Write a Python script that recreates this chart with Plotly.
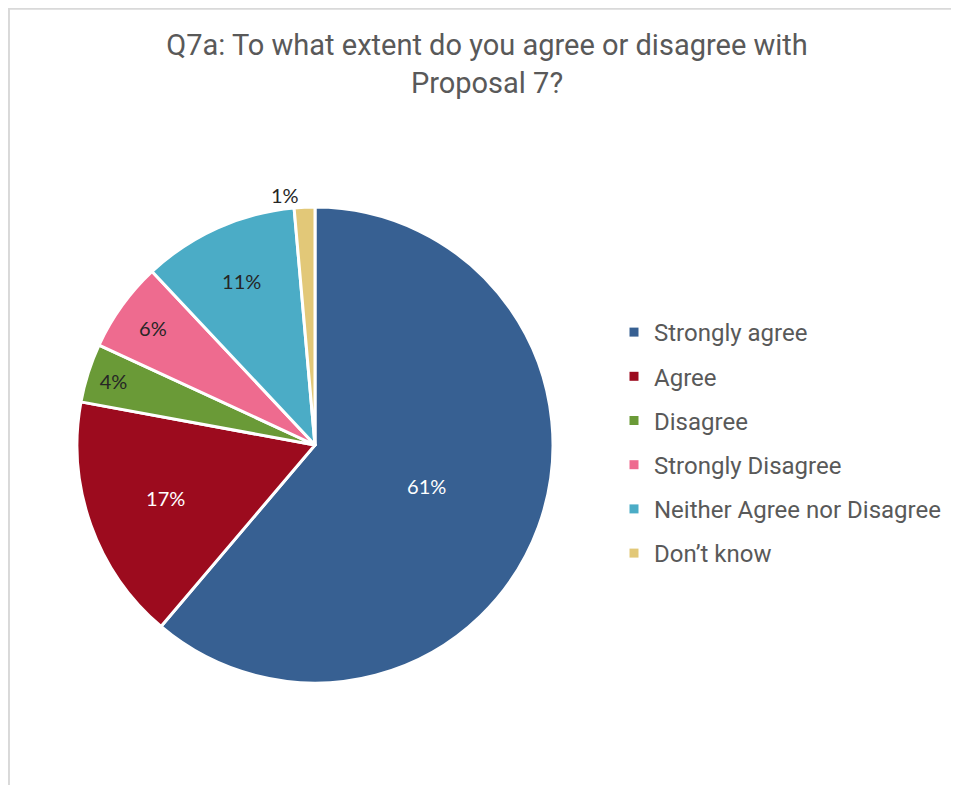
import plotly.graph_objects as go

labels = ["Strongly agree", "Agree", "Disagree", "Strongly Disagree",
          "Neither Agree nor Disagree", "Don\u2019t know"]
values = [61.2, 16.7, 4.0, 6.1, 10.6, 1.4]
colors = ["#376092", "#9C0B1E", "#6A9A37", "#EE6B8F", "#4BACC6", "#E2C878"]
text_colors = ["white", "white", "#262626", "#262626", "#262626", "#262626"]
text_positions = ["inside", "inside", "inside", "inside", "inside", "outside"]
title_text = "Q7a: To what extent do you agree or disagree with<br>Proposal 7?"

# page body has an 8px margin; figure is sized to fill the rest
OFF = 8
W, H = 959 - OFF, 785 - OFF


def px(x):
    return (x - OFF) / W


def py(y):
    return 1 - (y - OFF) / H


fig = go.Figure()
fig.add_trace(go.Pie(
    labels=labels, values=values, sort=False, direction="clockwise", rotation=0,
    marker=dict(colors=colors, line=dict(color="white", width=3)),
    texttemplate="%{percent:.0%}", textposition=text_positions,
    insidetextorientation="horizontal",
    textfont=dict(family="Lato, Carlito, sans-serif", size=20, color=text_colors),
    domain=dict(x=[px(77), px(553)], y=[py(683), py(207)]),
    showlegend=False, hoverinfo="label+percent",
))
for lab, col in zip(labels, colors):
    fig.add_trace(go.Scatter(
        x=[None], y=[None], mode="markers", name=lab, legendgroup=lab,
        marker=dict(symbol="square", size=9, color=col),
    ))

fig.update_layout(
    width=W, height=H,
    margin=dict(l=0, r=0, t=0, b=0),
    paper_bgcolor="white", plot_bgcolor="white",
    title=dict(text=title_text, x=px(487), xanchor="center", y=py(55), yanchor="top",
               font=dict(family="Roboto", size=29, color="#595959")),
    xaxis=dict(visible=False), yaxis=dict(visible=False),
    legend=dict(x=px(614), xanchor="left", y=py(310), yanchor="top",
                font=dict(family="Roboto", size=24, color="#595959"),
                tracegroupgap=10, bgcolor="rgba(0,0,0,0)"),
    shapes=[
        dict(type="line", xref="paper", yref="paper", x0=0.001, x1=0.001, y0=0, y1=1,
             line=dict(color="#D9D9D9", width=2)),
        dict(type="line", xref="paper", yref="paper", x0=0, x1=1, y0=0.999, y1=0.999,
             line=dict(color="#D9D9D9", width=2)),
    ],
)
fig.write_html("out.html")
